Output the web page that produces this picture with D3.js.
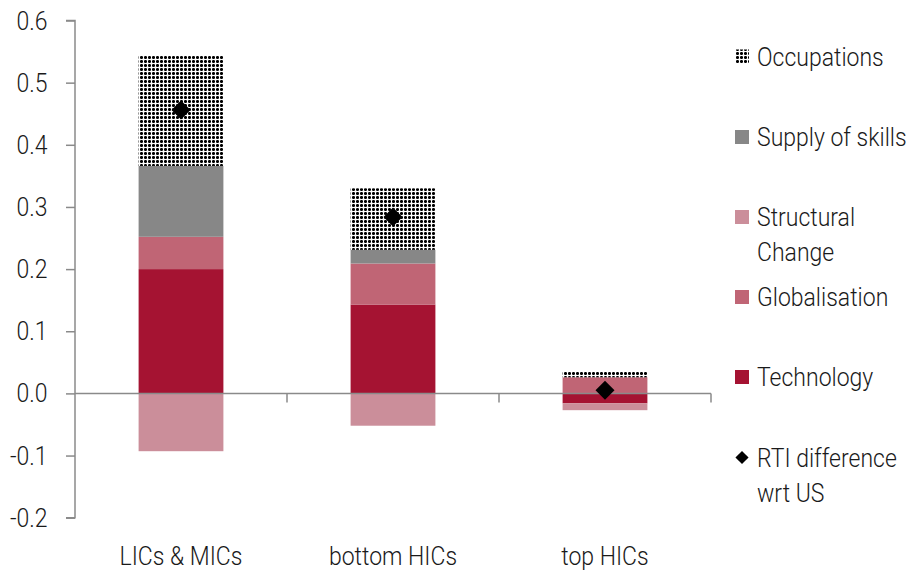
<!DOCTYPE html>
<html>
<head>
<meta charset="utf-8">
<script src="https://cdn.jsdelivr.net/npm/d3@7"></script>
<style>
  html, body { margin: 0; padding: 0; background: #fff; }
  svg { display: block; }
  text { font-family: Roboto, "Noto Sans", sans-serif; font-weight: 300; fill: #1a1a1a; }
</style>
</head>
<body>
<svg id="chart" width="907" height="572"></svg>
<script>
// ---- data ----
const categories = ["LICs & MICs", "bottom HICs", "top HICs"];
const technology   = [0.200, 0.143, -0.016];
const globalisation = [0.052, 0.066, 0.026];
const structuralChange = [-0.093, -0.052, -0.011];
const supplyOfSkills = [0.114, 0.022, 0.000];
const occupations  = [0.178, 0.099, 0.009];
const rtiDifference = [0.456, 0.284, 0.005];
const yTicks = [-0.2, -0.1, 0.0, 0.1, 0.2, 0.3, 0.4, 0.5, 0.6];

const seriesKeys = ["Technology", "Globalisation", "Structural Change", "Supply of skills", "Occupations"];
const seriesData = {
  "Technology": technology,
  "Globalisation": globalisation,
  "Structural Change": structuralChange,
  "Supply of skills": supplyOfSkills,
  "Occupations": occupations
};
const table = categories.map((c, i) => {
  const row = { category: c };
  seriesKeys.forEach(k => row[k] = seriesData[k][i]);
  return row;
});

// ---- setup ----
const svg = d3.select("#chart");
const defs = svg.append("defs");
const pat = defs.append("pattern").attr("id", "occ").attr("patternUnits", "userSpaceOnUse")
  .attr("width", 4).attr("height", 4);
pat.append("rect").attr("width", 4).attr("height", 4).attr("fill", "#fff");
pat.append("rect").attr("x", 0).attr("y", 0).attr("width", 3).attr("height", 3).attr("fill", "#000");
[[0,0],[2,0],[0,2],[2,2]].forEach(p => {
  pat.append("rect").attr("x", p[0]).attr("y", p[1]).attr("width", 1).attr("height", 1).attr("fill", "#555");
});

const colors = {
  "Technology": "#A51332",
  "Globalisation": "#C06575",
  "Structural Change": "#CB8E9A",
  "Supply of skills": "#878787",
  "Occupations": "url(#occ)"
};

const x = d3.scaleBand().domain(categories).range([75, 711]).paddingInner(0.6).paddingOuter(0.3);
const y = d3.scaleLinear().domain([-0.2, 0.6]).range([517.7, 20.5]);

const SX = 0.92;
function label(g, px, py, str, anchor, size) {
  return g.append("text")
    .attr("transform", `translate(${px},${py}) scale(${SX},1)`)
    .attr("text-anchor", anchor || "start")
    .attr("font-size", size || 25)
    .text(str);
}
const fmt = v => d3.format(".1f")(v).replace("\u2212", "-");

// ---- bars ----
const stack = d3.stack().keys(seriesKeys).offset(d3.stackOffsetDiverging);
const stacked = stack(table);
const barsG = svg.append("g");
stacked.forEach(s => {
  barsG.append("g").attr("fill", colors[s.key])
    .selectAll("rect").data(s).join("rect")
    .attr("x", d => x(d.data.category))
    .attr("width", x.bandwidth())
    .attr("y", d => y(Math.max(d[0], d[1])))
    .attr("height", d => Math.abs(y(d[0]) - y(d[1])));
});

// ---- axes ----
const axisColor = "#8a8a8a";
const yAxis = svg.append("g").attr("transform", "translate(75,0)")
  .call(d3.axisLeft(y).tickValues(yTicks).tickSize(9).tickFormat(fmt));
yAxis.select(".domain").attr("stroke", axisColor).attr("stroke-width", 1.5).attr("d", `M-9,${y(0.6)}H0V${y(-0.2)}H-9`);
yAxis.selectAll(".tick line").attr("stroke", axisColor).attr("stroke-width", 1.5);
yAxis.selectAll(".tick text").remove();
yTicks.forEach(t => {
  label(svg, 47.5, y(t) + 9, fmt(t), "end");
});

const step = x.step();
const boundaries = [x(categories[0]) - step * 0.3].concat(categories.map(c => x(c) + x.bandwidth() + step * 0.3));
const xAxis = svg.append("g");
xAxis.append("line").attr("x1", 75).attr("x2", 711).attr("y1", y(0)).attr("y2", y(0))
  .attr("stroke", axisColor).attr("stroke-width", 1.5);
xAxis.selectAll("line.tk").data(boundaries.slice(1)).join("line").attr("class", "tk")
  .attr("x1", d => d).attr("x2", d => d).attr("y1", y(0)).attr("y2", y(0) + 9)
  .attr("stroke", axisColor).attr("stroke-width", 1.5);
categories.forEach(c => {
  label(svg, x(c) + x.bandwidth() / 2, 565, c, "middle");
});

// ---- RTI markers ----
const diamond = d3.symbol().type(d3.symbolDiamond2).size(230);
svg.append("g").selectAll("path").data(rtiDifference).join("path")
  .attr("d", diamond)
  .attr("transform", (d, i) => `translate(${x(categories[i]) + x.bandwidth() / 2},${y(d)})`)
  .attr("fill", "#000");

// ---- legend ----
const legend = svg.append("g");
const legendItems = [
  { key: "Occupations", lines: ["Occupations"], cy: 56.5 },
  { key: "Supply of skills", lines: ["Supply of skills"], cy: 137 },
  { key: "Structural Change", lines: ["Structural", "Change"], cy: 217 },
  { key: "Globalisation", lines: ["Globalisation"], cy: 297 },
  { key: "Technology", lines: ["Technology"], cy: 377 },
  { key: "RTI", lines: ["RTI difference", "wrt US"], cy: 457.5 }
];
legendItems.forEach(it => {
  if (it.key === "RTI") {
    legend.append("path").attr("d", d3.symbol().type(d3.symbolDiamond2).size(110))
      .attr("transform", `translate(742,${it.cy})`).attr("fill", "#000");
  } else {
    legend.append("rect").attr("x", 735).attr("y", it.cy - 7).attr("width", 14).attr("height", 14)
      .attr("fill", colors[it.key]);
  }
  it.lines.forEach((ln, j) => {
    label(legend, 757, it.cy + 9 + j * 35, ln, "start");
  });
});
</script>
</body>
</html>
